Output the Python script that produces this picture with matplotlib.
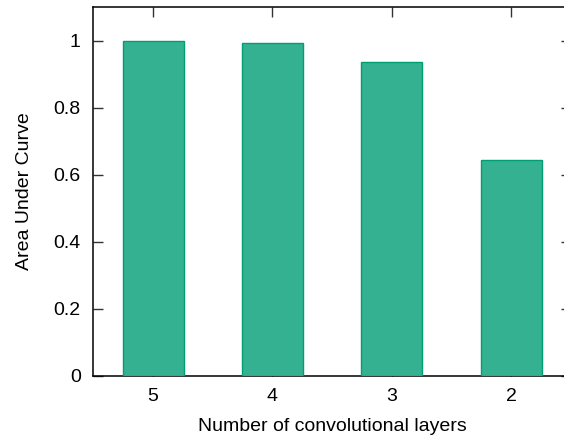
import matplotlib.pyplot as plt

plt.rcParams['font.family'] = ['Liberation Sans', 'DejaVu Sans']

# AUC per network depth
layers = ['5', '4', '3', '2']
auc = [0.999, 0.993, 0.937, 0.644]
yticks = [0, 0.2, 0.4, 0.6, 0.8, 1.0]
ytick_labels = ['0', '0.2', '0.4', '0.6', '0.8', '1']

fig = plt.figure(figsize=(5.64, 4.36), dpi=100)
ax = fig.add_axes([0.1655, 0.1383, 0.847, 0.8445])

x = range(len(layers))
ax.bar(x, auc, width=0.51, color='#34b190', edgecolor='#009e73',
       linewidth=1.0, zorder=3)

ax.set_xlim(-0.5, 3.5)
ax.set_ylim(0, 1.1)
ax.set_xticks(list(x))
ax.set_xticklabels(layers)
ax.set_yticks(yticks)
ax.set_yticklabels(ytick_labels)

ax.tick_params(direction='in', length=7, width=1, color='#333333',
               top=True, right=True, labelsize=14, pad=9)
for s in ax.spines.values():
    s.set_linewidth(1.1)
    s.set_color('black')

ax.set_xlabel('Number of convolutional layers', fontsize=14, labelpad=9)
ax.set_ylabel('Area Under Curve', fontsize=14, labelpad=15)

fig.savefig('out.png', dpi=100)
